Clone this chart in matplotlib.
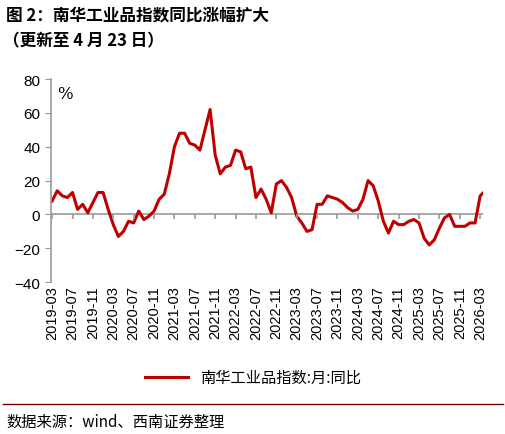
import numpy as np
import pandas as pd
import matplotlib.pyplot as plt

plt.rcParams['font.family'] = ['Noto Sans CJK SC', 'DejaVu Sans']

# monthly YoY of Nanhua industrial index, 2019-03 .. 2026-04 (partial)
values = [8, 14, 11, 10, 13, 3, 6, 1, 7, 13,
          13, 3, -6, -13, -10, -4, -5, 2, -3, -1, 2, 9,
          12, 24, 40, 48, 48, 42, 41, 38, 50, 62, 35, 24,
          28, 29, 38, 37, 27, 28, 10, 15, 9, 1, 18, 20,
          16, 10, -1, -5, -10, -9, 6, 6, 11, 10, 9, 7,
          4, 2, 3, 9, 20, 17, 8, -4, -11, -4, -6, -6,
          -4, -3, -5, -14, -18, -15, -8, -2, 0, -7, -7, -7,
          -5, -5, 11, 14]
dates = pd.date_range("2019-03-01", periods=len(values), freq="MS")
tick_dates = pd.date_range("2019-03-01", "2026-03-01", freq="4MS")
tick_labels = [d.strftime("%Y-%m") for d in tick_dates]

x = np.arange(len(values))
tick_pos = [(d.year - 2019) * 12 + d.month - 3 for d in tick_dates]

fig = plt.figure(figsize=(5.06, 4.35), dpi=100)
ax = fig.add_axes([0.100, 0.349, 0.855, 0.467])
red = "#C00000"
ax.plot(x, values, color=red, lw=2.2)
ax.axhline(0, color="#999999", lw=1.2, zorder=0)
ax.set_xlim(-0.3, 84.6)
ax.set_ylim(-40, 80)
ax.set_yticks(range(-40, 81, 20))
ax.tick_params(axis="y", labelsize=11, length=4, color="#999999", direction="out")
ax.set_xticks(tick_pos)
ax.set_xticklabels(tick_labels, rotation=90, fontsize=10.5)
ax.tick_params(axis="x", length=0, pad=2)
for lab in ax.get_xticklabels() + ax.get_yticklabels():
    lab.set_family("Liberation Sans")
ax.vlines(tick_pos, -2.5, 0, color="#999999", lw=1.2)
for s in ["top", "right", "bottom"]:
    ax.spines[s].set_visible(False)
ax.spines["left"].set_color("#999999")
ax.spines["left"].set_linewidth(1.2)
ax.text(0.015, 0.97, "%", transform=ax.transAxes, fontsize=12, va="top", family="DejaVu Serif")

fig.text(0.012, 0.965, "图 2：南华工业品指数同比涨幅扩大", fontsize=12, weight="bold", va="center")
fig.text(0.005, 0.905, "（更新至 4 月 23 日）", fontsize=12, weight="bold", va="center")

ax.plot([], [], color=red, lw=2.2, label="南华工业品指数:月:同比")
ax.legend(loc="center", bbox_to_anchor=(0.5, 0.13), bbox_transform=fig.transFigure,
          frameon=False, fontsize=11, handlelength=2.8)
fig.add_artist(plt.Line2D([0.005, 0.995], [0.068, 0.068], color="#7a0000", lw=1))
fig.text(0.012, 0.03, "数据来源：wind、西南证券整理", fontsize=11, style="italic", va="center")

fig.savefig("out.png", dpi=100)
